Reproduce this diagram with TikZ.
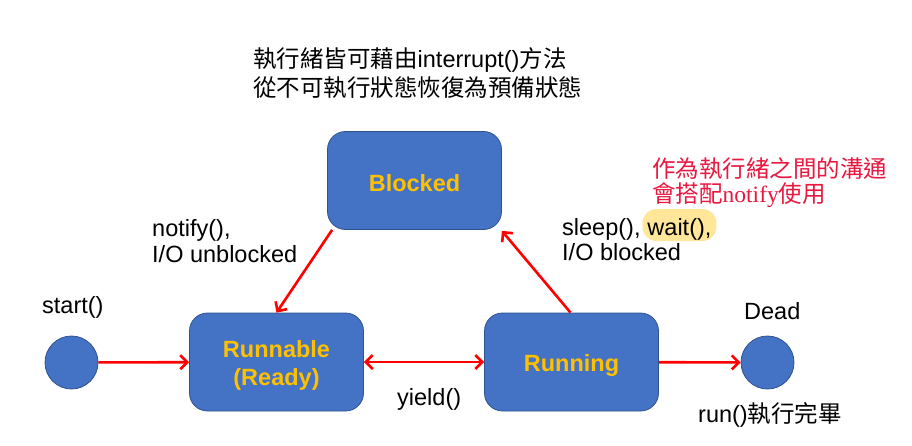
\documentclass[tikz,border=0pt]{standalone}
\usepackage{fontspec}
\setmainfont{Liberation Sans}
\newfontfamily\cjk{Noto Sans CJK TC}
\newfontfamily\serifl{Liberation Serif}
\usetikzlibrary{arrows.meta,calc}
\definecolor{boxfill}{HTML}{4472C4}
\definecolor{boxborder}{HTML}{2F528F}
\definecolor{gold}{HTML}{FFC000}
\definecolor{hl}{HTML}{FFE699}
\definecolor{annot}{RGB}{232,24,64}
\begin{document}
\begin{tikzpicture}[x=1pt,y=-1pt,
  every node/.style={font=\fontsize{23.5}{28}\selectfont, inner sep=0pt},
  state/.style={draw=boxborder, fill=boxfill, rounded corners=18pt, line width=0.8pt,
    minimum width=174pt, minimum height=98pt, text=gold, align=center,
    font=\fontsize{23.5}{29}\selectfont\bfseries},
  dot/.style={circle, draw=boxborder, fill=boxfill, line width=0.8pt, minimum size=53pt},
  lbl/.style={anchor=base west, text=black},
  arr/.style={draw=red, line width=2.6pt, -{Straight Barb[length=7pt,width=14pt]}},
  arr2/.style={draw=red, line width=2.6pt, {Straight Barb[length=7pt,width=14pt]}-{Straight Barb[length=7pt,width=14pt]}}
]
\useasboundingbox (0,0) rectangle (912,445);
% states
\node[state] (blocked) at (414.5,180.5) {\raisebox{-3pt}[\height][\depth]{Blocked}};
\node[state] (runnable) at (276.5,362) {\raisebox{-4pt}[\height][\depth]{\begin{tabular}{@{}c@{}}Runnable\\[-1pt](Ready)\end{tabular}}};
\node[state] (running) at (571.5,362) {\raisebox{-3pt}[\height][\depth]{Running}};
\node[dot] (start) at (71.5,362.5) {};
\node[dot] (dead) at (767.5,362.5) {};
% connectors
\draw[arr] (start) -- (runnable);
\draw[arr2] (runnable) -- (running);
\draw[arr] (running) -- (dead);
\draw[arr] ($(blocked.south west)+(5,0)$) -- (runnable.north);
\draw[arr] ($(running.north)+(-1,0)$) -- ($(blocked.south east)+(0,1)$);
% labels
\node[lbl] (t1) at (253,67) {{\cjk 執行緒皆可藉由}interrupt(){\cjk 方法}};
\node[lbl] (t2) at (253,96) {{\cjk 從不可執行狀態恢復為預備狀態}};
\node[lbl, text=annot] (a1) at (652,177) {{\cjk 作為執行緒之間的溝通}};
\node[lbl, text=annot] (a2) at (652,202) {{\cjk 會搭配}{\serifl notify}{\cjk 使用}};
\node[lbl] (n1) at (152,236) {notify(),};
\node[lbl] (n2) at (152,262) {I/O unblocked};
\node[lbl] (s1) at (562,235) {sleep(),};
\node[anchor=base west, fill=hl, rounded corners=14pt, inner xsep=5pt, inner ysep=5pt,
  text height=21pt, text depth=1pt] (w1) at ($(s1.base east)+(1.5,0)$) {wait(),\hspace{3pt}};
\node[lbl] (s2) at (562,260) {I/O blocked};
\node[lbl] (st) at (42,313) {start()};
\node[lbl] (dd) at (744,319) {Dead};
\node[lbl] (rn) at (698,422) {run(){\cjk 執行完畢}};
\node[lbl] (yd) at (397,405) {yield()};
\end{tikzpicture}
\end{document}
